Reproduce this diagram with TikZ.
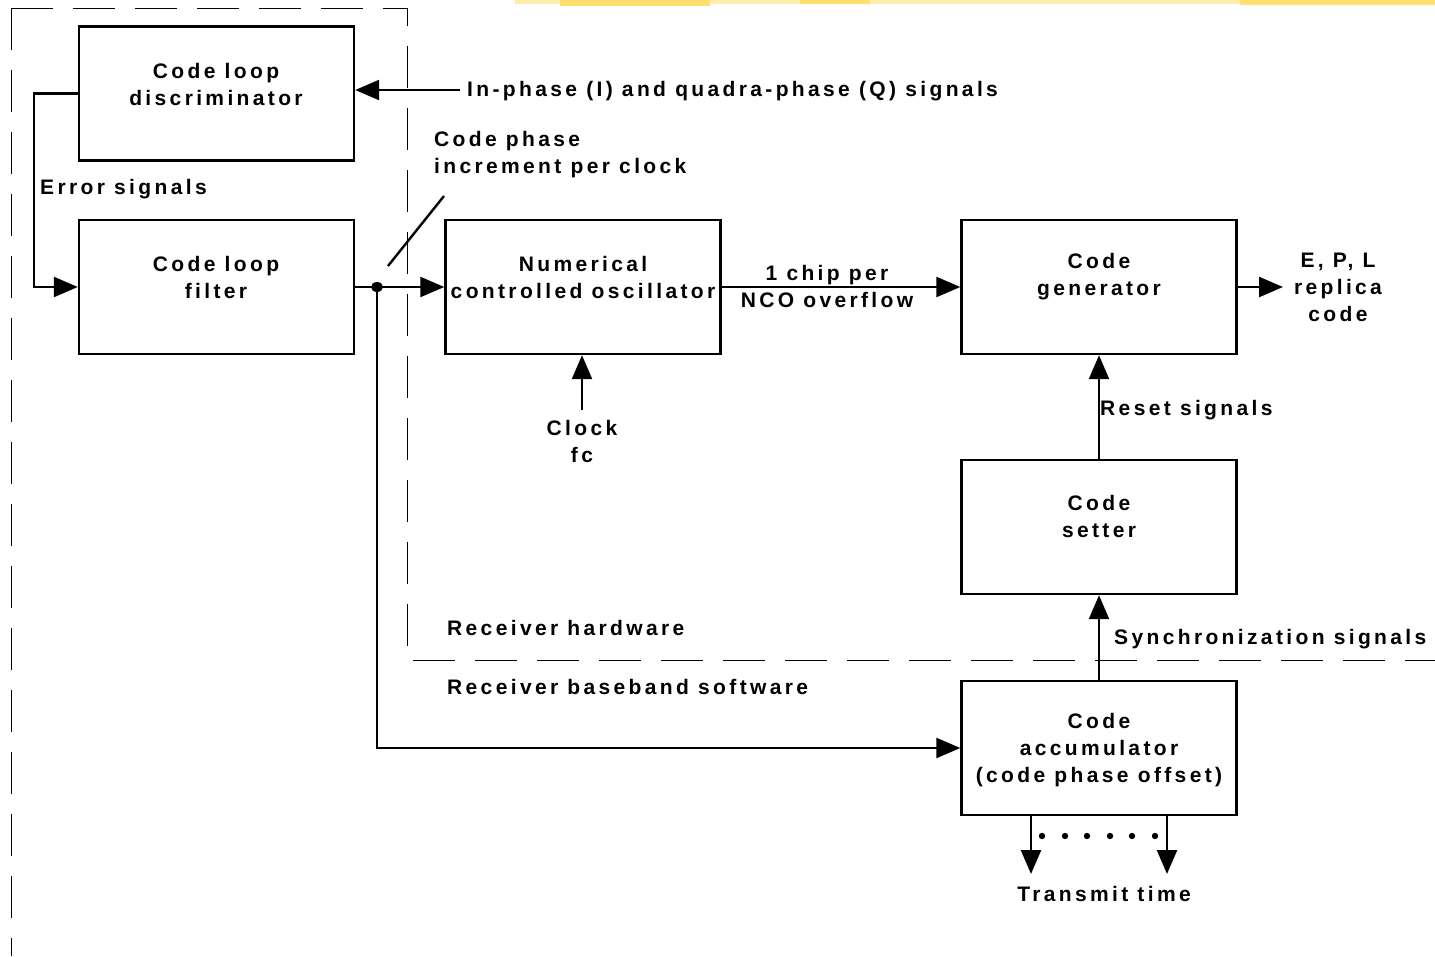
\documentclass[tikz,border=0pt]{standalone}
\usepackage{fontspec}
\setmainfont{Liberation Sans}[LetterSpace=16]
\usetikzlibrary{arrows.meta}
\definecolor{stripe}{RGB}{255,224,110}
\definecolor{stripelt}{RGB}{255,238,170}
\begin{document}
\begin{tikzpicture}[x=1pt,y=-1pt,
  box/.style={draw, line width=2.4pt, minimum width=275pt, minimum height=134pt, inner sep=0pt},
  lbl/.style={font=\bfseries\fontsize{21}{27}\selectfont, align=center, inner sep=0pt},
  conn/.style={line width=2.4pt},
  arr/.style={conn, -{Triangle[length=24pt,width=20pt]}},
  bnd/.style={line width=1pt, dash pattern=on 42pt off 20pt}]
\useasboundingbox (0,0) rectangle (1435,956);
% background stripe at top
\fill[stripelt] (515,0) rectangle (1435,4);
\fill[stripe] (560,0) rectangle (710,6);
\fill[stripe] (800,0) rectangle (870,4);
\fill[stripe] (1240,0) rectangle (1435,5);
% boundary
\coordinate (b1) at (11,956);
\coordinate (b2) at (11,8);
\coordinate (b3) at (407,8);
\coordinate (b4) at (407,660);
\coordinate (b5) at (1435,660);
\draw[bnd] (b2) -- (b1);
\draw[bnd] (b2) -- (b3) -- (b4) -- (b5);
% boxes
\node[box] (disc) at (216.5,93.5) {};
\node[box] (filt) at (216.5,287) {};
\node[box] (nco) at (583,287) {};
\node[box] (gen) at (1099,287) {};
\node[box] (set) at (1099,527) {};
\node[box] (acc) at (1099,748) {};
% box texts
\node[lbl] (tdisc) at (216,84) {Code loop\\discriminator};
\node[lbl] (tfilt) at (216,277) {Code loop\\filter};
\node[lbl] (tnco) at (583,277) {Numerical\\controlled oscillator};
\node[lbl] (tgen) at (1099,277) {Code\\generator};
\node[lbl] (tset) at (1099,516) {Code\\setter};
\node[lbl] (tacc) at (1099,750) {Code\\accumulator\\(code phase offset)};
% other labels
\node[lbl, anchor=west] (liq) at (467,91) {In-phase (I) and quadra-phase (Q) signals};
\node[lbl, anchor=west] (lerr) at (40,189) {Error signals};
\node[lbl, anchor=west, align=left] (lcp) at (434,155) {Code phase\\increment per clock};
\node[lbl] (lchip) at (827,286) {1 chip per\\NCO overflow};
\node[lbl] (lclk) at (582,441) {Clock\\fc};
\node[lbl] (lepl) at (1338,287) {E, P, L\\replica\\code};
\node[lbl, anchor=west] (lreset) at (1100,410) {Reset signals};
\node[lbl, anchor=west] (lsync) at (1114,639) {Synchronization signals};
\node[lbl, anchor=west] (lhw) at (447,628) {Receiver hardware};
\node[lbl, anchor=west] (lsw) at (447,687) {Receiver baseband software};
\node[lbl] (ltx) at (1104,894) {Transmit time};
% connectors
\coordinate (iqs) at (460,90);
\draw[arr] (iqs) -- (disc.east |- iqs);
\draw[arr] (disc.west) -- ++(-44,0) |- (filt.west);
\draw[arr] (filt.east) -- (nco.west);
\coordinate (dot) at (377,287);
\fill (dot) ellipse (6pt and 5pt);
\draw[arr] (dot) |- (acc.west);
\coordinate (d1) at (388,266);
\coordinate (d2) at (444,196);
\draw[conn] (d1) -- (d2);
\draw[arr] (nco.east) -- (gen.west);
\coordinate (eplout) at (1283,287);
\draw[arr] (gen.east) -- (eplout);
\coordinate (clk) at (582,410);
\draw[arr] (clk) -- (nco.south -| clk);
\draw[arr] (set.north) -- (gen.south);
\draw[arr] (acc.north) -- (set.south);
\coordinate (t1) at (1031,874);
\coordinate (t2) at (1167,874);
\draw[arr] (acc.south -| t1) -- (t1);
\draw[arr] (acc.south -| t2) -- (t2);
\foreach \xx in {1042,1065,1087,1110,1132,1155}
  \fill (\xx,836) circle (3.2pt);
\end{tikzpicture}
\end{document}
